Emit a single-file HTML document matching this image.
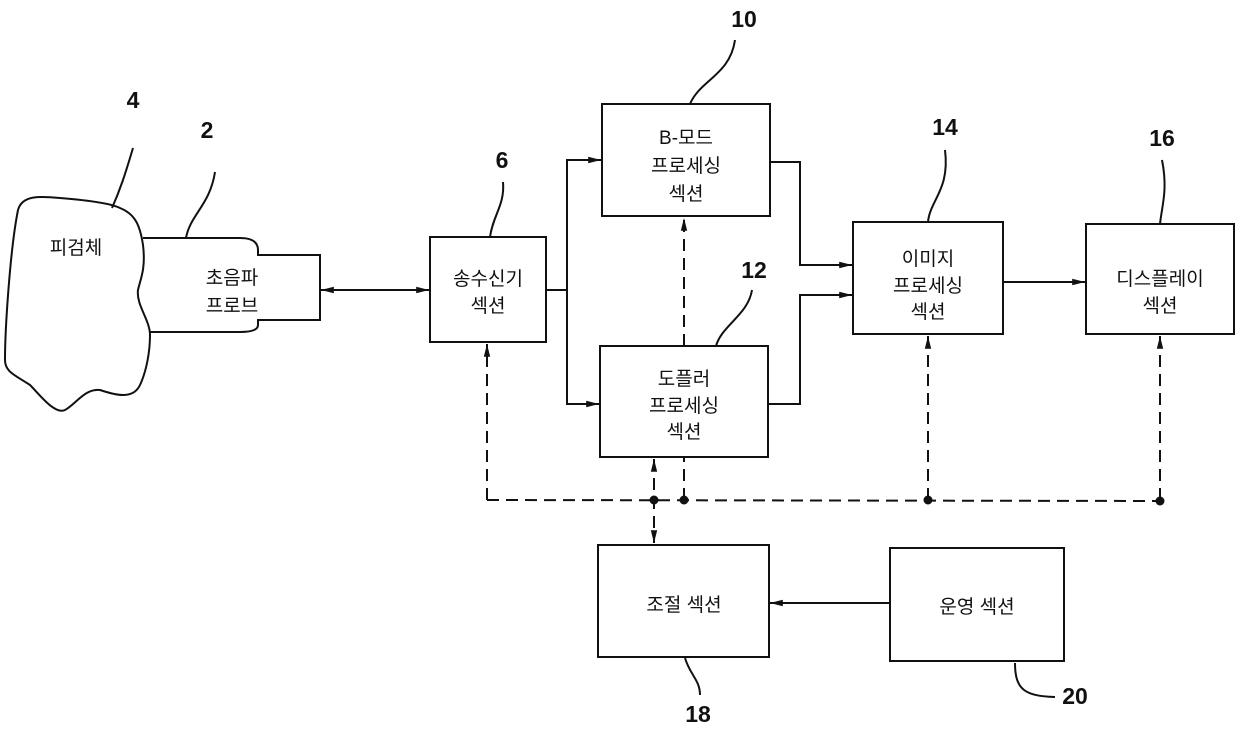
<!DOCTYPE html>
<html><head><meta charset="utf-8"><style>
body{margin:0;background:#fff}
svg{display:block}
.t{font-family:"Liberation Sans","Noto Sans CJK KR",sans-serif;font-size:19px;fill:#111;text-anchor:middle}
.n{font-family:"Liberation Sans",sans-serif;font-size:23px;font-weight:bold;fill:#111;text-anchor:middle}
</style></head><body>
<svg width="1240" height="729" viewBox="0 0 1240 729" xmlns="http://www.w3.org/2000/svg">
<defs>
<marker id="a" viewBox="0 0 16 10" refX="16" refY="5" markerWidth="16" markerHeight="8" orient="auto-start-reverse" markerUnits="userSpaceOnUse"><path d="M0,1 L16,5 L0,9 Z" fill="#111"/></marker>
</defs>
<g fill="none" stroke="#111" stroke-width="2">
<path d="M18,210 C22,195 40,196 60,198 C85,200 110,203 120,208 C135,214 140,225 143,245 C146,270 140,280 138,290 C136,305 150,320 150,335 C150,350 147,370 140,385 C133,400 115,395 100,390 C85,388 75,405 65,410 C55,415 40,395 30,385 C15,375 5,372 5,360 C5,330 10,250 18,210 Z"/>
<path d="M143,238 L240,238 Q258,238 258,250 L258,255 L320,255 L320,320 L258,320 L258,325 Q258,332 240,332 L150,332"/>
<rect x="430" y="237" width="116" height="105"/>
<rect x="602" y="104" width="168" height="112"/>
<rect x="600" y="346" width="168" height="111"/>
<rect x="853" y="222" width="150" height="112"/>
<rect x="1086" y="224" width="148" height="110"/>
<rect x="598" y="545" width="171" height="112"/>
<rect x="890" y="548" width="174" height="113"/>
<line x1="321" y1="290" x2="429" y2="290" marker-start="url(#a)" marker-end="url(#a)"/>
<path d="M546,290 L567,290 L567,160 L601,160" marker-end="url(#a)"/>
<path d="M567,290 L567,404 L599,404" marker-end="url(#a)"/>
<path d="M770,162 L800,162 L800,265 L852,265" marker-end="url(#a)"/>
<path d="M768,404 L800,404 L800,295 L852,295" marker-end="url(#a)"/>
<line x1="1003" y1="282" x2="1085" y2="282" marker-end="url(#a)"/>
<line x1="890" y1="603" x2="770" y2="603" marker-end="url(#a)"/>
<path d="M112,208 C120,190 125,175 133,148"/>
<path d="M186,238 C190,215 210,205 215,172"/>
<path d="M490,237 C493,215 505,205 503,182"/>
<path d="M690,104 C700,80 730,75 735,40"/>
<path d="M928,222 C930,200 950,190 945,150"/>
<path d="M1160,224 C1162,205 1168,190 1162,160"/>
<path d="M716,346 C722,325 748,315 752,290"/>
<path d="M685,658 C690,675 700,680 700,695"/>
<path d="M1015,663 C1015,690 1025,696 1055,697"/>
</g>
<g fill="none" stroke="#111" stroke-width="2" stroke-dasharray="12,7">
<line x1="487" y1="500" x2="1160" y2="501"/>
<line x1="487" y1="500" x2="487" y2="344" marker-end="url(#a)"/>
<line x1="928" y1="500" x2="928" y2="336" marker-end="url(#a)"/>
<line x1="1160" y1="500" x2="1160" y2="336" marker-end="url(#a)"/>
<line x1="684" y1="500" x2="684" y2="458"/>
<line x1="684" y1="346" x2="684" y2="218" marker-end="url(#a)"/>
<line x1="654" y1="459" x2="654" y2="543" marker-start="url(#a)" marker-end="url(#a)"/>
</g>
<g fill="#111"><circle cx="654" cy="500" r="4.5"/><circle cx="684" cy="500" r="4.5"/><circle cx="928" cy="500" r="4.5"/><circle cx="1160" cy="501" r="4.5"/></g>
<text class="t" x="76" y="254">피검체</text>
<text class="t" x="232" y="284">초음파</text><text class="t" x="232" y="312">프로브</text>
<text class="t" x="488" y="285">송수신기</text><text class="t" x="488" y="312">섹션</text>
<text class="t" x="686" y="144">B-모드</text><text class="t" x="686" y="172">프로세싱</text><text class="t" x="686" y="200">섹션</text>
<text class="t" x="684" y="385">도플러</text><text class="t" x="684" y="412">프로세싱</text><text class="t" x="684" y="438">섹션</text>
<text class="t" x="928" y="265">이미지</text><text class="t" x="928" y="292">프로세싱</text><text class="t" x="928" y="318">섹션</text>
<text class="t" x="1160" y="285">디스플레이</text><text class="t" x="1160" y="312">섹션</text>
<text class="t" x="684" y="611">조절 섹션</text>
<text class="t" x="977" y="613">운영 섹션</text>
<text class="n" x="133" y="108">4</text>
<text class="n" x="207" y="138">2</text>
<text class="n" x="502" y="168">6</text>
<text class="n" x="744" y="27">10</text>
<text class="n" x="945" y="135">14</text>
<text class="n" x="1162" y="146">16</text>
<text class="n" x="754" y="278">12</text>
<text class="n" x="698" y="722">18</text>
<text class="n" x="1075" y="704">20</text>
</svg>
</body></html>
